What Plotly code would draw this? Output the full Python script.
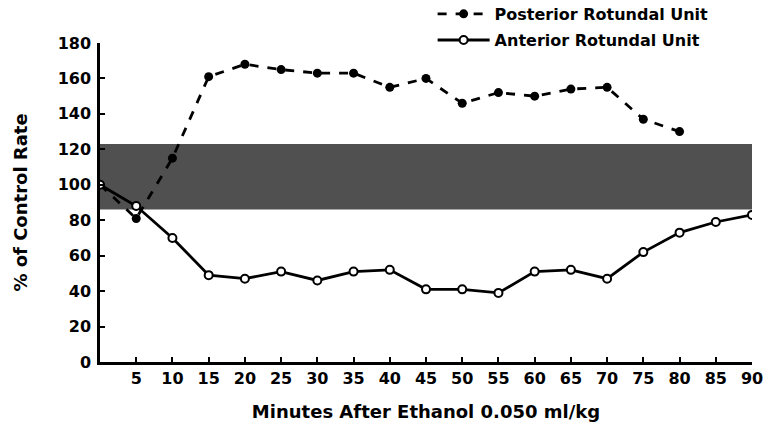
import plotly.graph_objects as go

minutes_post = [0, 5, 10, 15, 20, 25, 30, 35, 40, 45, 50, 55, 60, 65, 70, 75, 80]
posterior = [100, 81, 115, 161, 168, 165, 163, 163, 155, 160, 146, 152, 150, 154, 155, 137, 130]

minutes_ant = [0, 5, 10, 15, 20, 25, 30, 35, 40, 45, 50, 55, 60, 65, 70, 75, 80, 85, 90]
anterior = [100, 88, 70, 49, 47, 51, 46, 51, 52, 41, 41, 39, 51, 52, 47, 62, 73, 79, 83]

band_x = [0, 90]
band_low = 86
band_high = 123

x_ticks = [5, 10, 15, 20, 25, 30, 35, 40, 45, 50, 55, 60, 65, 70, 75, 80, 85, 90]
y_ticks = [0, 20, 40, 60, 80, 100, 120, 140, 160, 180]

FONT = "DejaVu Sans"

fig = go.Figure()

fig.add_shape(type="rect", xref="x", yref="y",
              x0=band_x[0], x1=band_x[1], y0=band_low, y1=band_high,
              fillcolor="#505050", line=dict(width=0), layer="below")

fig.add_trace(go.Scatter(
    x=minutes_post, y=posterior, mode="lines+markers",
    name="Posterior Rotundal Unit",
    line=dict(color="black", width=2.8, dash="dash"),
    marker=dict(symbol="circle", size=9, color="black"),
    legend="legend", showlegend=True,
))
fig.add_trace(go.Scatter(
    x=minutes_ant, y=anterior, mode="lines+markers",
    name="Anterior Rotundal Unit",
    line=dict(color="black", width=2.8),
    marker=dict(symbol="circle", size=8, color="white", line=dict(color="black", width=2)),
    legend="legend2", showlegend=True,
))

legend_font = dict(family=FONT, size=16, weight="bold")

fig.update_layout(
    width=763, height=422,
    margin=dict(l=100, r=11, t=43, b=60, autoexpand=False),
    paper_bgcolor="white", plot_bgcolor="white",
    showlegend=True,
    font=dict(family=FONT, color="black", size=14),
    legend=dict(x=0.567, y=0.967, xref="container", yref="container",
                xanchor="left", yanchor="middle",
                font=legend_font, bgcolor="rgba(0,0,0,0)", itemwidth=52),
    legend2=dict(x=0.567, y=0.905, xref="container", yref="container",
                 xanchor="left", yanchor="middle",
                 font=legend_font, bgcolor="rgba(0,0,0,0)", itemwidth=52),
    xaxis=dict(range=[0, 90], tickvals=x_ticks, ticktext=[str(v) for v in x_ticks],
               ticks="inside", ticklen=5, tickwidth=2, tickcolor="black",
               showline=True, linewidth=2.5, linecolor="black",
               showgrid=False, zeroline=False, automargin=False,
               ticklabeloverflow="allow",
               tickfont=dict(family=FONT, size=16, weight="bold"),
               title=dict(text="Minutes After Ethanol 0.050 ml/kg",
                          font=dict(family=FONT, size=18, weight="bold"), standoff=19)),
    yaxis=dict(range=[0, 180], tickvals=y_ticks,
               ticks="inside", ticklen=5, tickwidth=2, tickcolor="black",
               showline=True, linewidth=2.5, linecolor="black",
               showgrid=False, zeroline=False, ticklabelstandoff=3, automargin=False,
               tickfont=dict(family=FONT, size=16, weight="bold"),
               title=dict(text="% of Control Rate",
                          font=dict(family=FONT, size=18, weight="bold"), standoff=26)),
)

fig.write_html("out.html", config={"displayModeBar": False},
               post_script="document.body.style.margin='0';")
